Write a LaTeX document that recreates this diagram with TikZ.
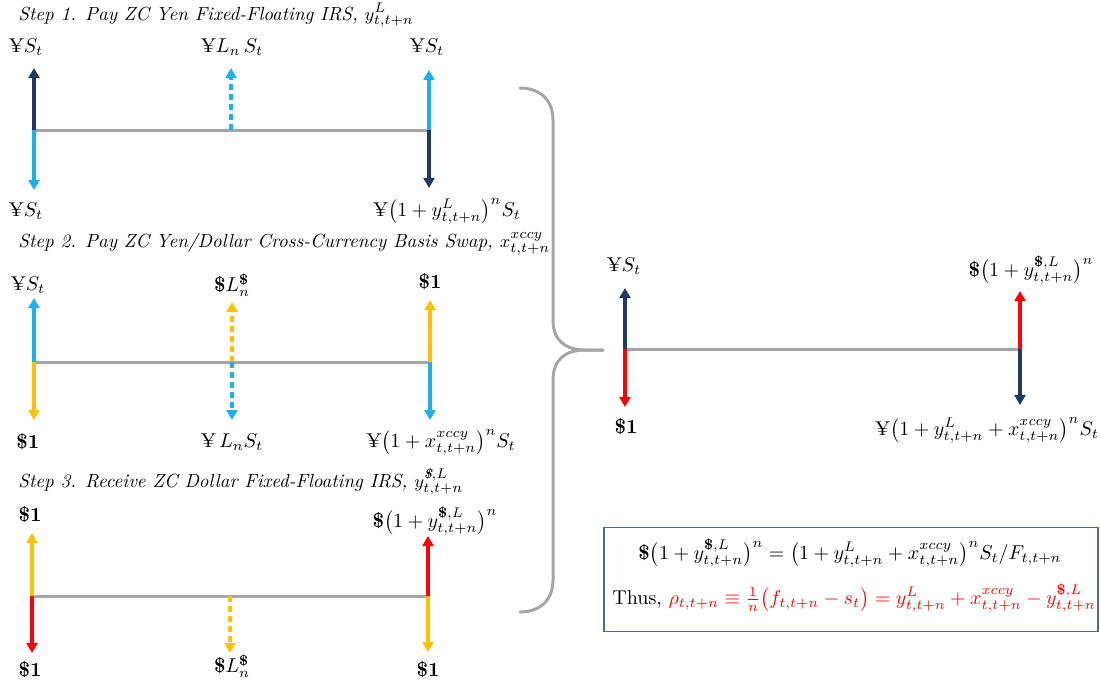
\documentclass[tikz,border=0pt]{standalone}
\usepackage{amsmath}
\usepackage{fontspec}
\usetikzlibrary{arrows.meta,calc}
\definecolor{navyc}{HTML}{1F3864}
\definecolor{skyc}{HTML}{1CB0EE}
\definecolor{goldc}{HTML}{FFC000}
\definecolor{redc}{HTML}{FF0000}
\definecolor{lgray}{HTML}{A6A6A6}
\definecolor{boxc}{HTML}{4A6AA5}
\newcommand{\bd}{\textbf{\$}}
\newcommand{\mbd}{\text{\textbf{\$}}}
\begin{document}
\begin{tikzpicture}[x=0.5pt,y=-0.5pt,
 flow/.style={line width=1.6pt,-{Triangle[width=5.5pt,length=5pt]}},
 dsh/.style={dash pattern=on 3pt off 2pt},
 axis/.style={draw=lgray,line width=1.5pt},
 lbl/.style={inner sep=0pt},
 ttl/.style={inner sep=0pt,anchor=west,font=\itshape\fontsize{9.5}{11}\selectfont},
 brace/.style={draw=lgray,line width=1.5pt,line cap=round}]
\useasboundingbox (0,0) rectangle (1100,682);

% ---------------- Step 1 ----------------
\node[ttl] (t1) at (18,15) {Step 1. Pay ZC Yen Fixed-Floating IRS, $y^{L}_{t,t+n}$};
\coordinate (a1) at (34,130);
\coordinate (m1) at (231,130);
\coordinate (b1) at (429,130);
\draw[axis] (a1) -- (b1);
\draw[flow,navyc] (a1) -- ++(0,-62);
\draw[flow,skyc] (a1) -- ++(0,60);
\draw[flow,skyc,dsh] (m1) -- ++(0,-62);
\draw[flow,skyc] (b1) -- ++(0,-60);
\draw[flow,navyc] (b1) -- ++(0,58);
\node[lbl] (a1u) at (26,47) {¥$S_t$};
\node[lbl] (m1u) at (232,47) {¥$L_n\,S_t$};
\node[lbl] (b1u) at (427,47) {¥$S_t$};
\node[lbl] (a1d) at (26,211) {¥$S_t$};
\node[lbl] (b1d) at (447,211) {¥$\bigl(1+y^{L}_{t,t+n}\bigr)^{n}S_t$};

% ---------------- Step 2 ----------------
\node[ttl] (t2) at (18,244) {Step 2. Pay ZC Yen/Dollar Cross-Currency Basis Swap, $x^{xccy}_{t,t+n}$};
\coordinate (a2) at (34,362);
\coordinate (m2) at (232,362);
\coordinate (b2) at (430,362);
\draw[axis] (a2) -- (b2);
\draw[flow,skyc] (a2) -- ++(0,-64);
\draw[flow,goldc] (a2) -- ++(0,58);
\draw[flow,goldc,dsh] (m2) -- ++(0,-60);
\draw[flow,skyc,dsh] (m2) -- ++(0,58);
\draw[flow,goldc] (b2) -- ++(0,-62);
\draw[flow,skyc] (b2) -- ++(0,58);
\node[lbl] (a2u) at (28,285) {¥$S_t$};
\node[lbl] (m2u) at (232,285) {\bd$L_n^{\mbd}$};
\node[lbl] (b2u) at (430,282) {\bd\textbf{1}};
\node[lbl] (a2d) at (28,442) {\bd\textbf{1}};
\node[lbl] (m2d) at (232,442) {¥\,$L_nS_t$};
\node[lbl] (b2d) at (441,442) {¥$\bigl(1+x^{xccy}_{t,t+n}\bigr)^{n}S_t$};

% ---------------- Step 3 ----------------
\node[ttl] (t3) at (18,482) {Step 3. Receive ZC Dollar Fixed-Floating IRS, $y^{\mbd,L}_{t,t+n}$};
\coordinate (a3) at (32,596);
\coordinate (m3) at (230,596);
\coordinate (b3) at (428,596);
\draw[axis] (a3) -- (b3);
\draw[flow,goldc] (a3) -- ++(0,-63);
\draw[flow,redc] (a3) -- ++(0,57);
\draw[flow,goldc,dsh] (m3) -- ++(0,57);
\draw[flow,redc] (b3) -- ++(0,-60);
\draw[flow,goldc] (b3) -- ++(0,56);
\node[lbl] (a3u) at (30,515) {\bd\textbf{1}};
\node[lbl] (b3u) at (435,521) {\bd$\bigl(1+y^{\mbd,L}_{t,t+n}\bigr)^{n}$};
\node[lbl] (a3d) at (30,670) {\bd\textbf{1}};
\node[lbl] (m3d) at (232,666) {\bd$L_n^{\mbd}$};
\node[lbl] (b3d) at (428,670) {\bd\textbf{1}};

% ---------------- Brace ----------------
\coordinate (bt) at (520,88);
\coordinate (bm) at (603,350);
\coordinate (bb) at (520,612);
\draw[brace] (bt) .. controls (540,88) and (553,100) .. (553,120) -- (553,320)
  .. controls (553,340) and (565,350) .. (585,350) -- (bm);
\draw[brace] (bm) -- (585,350) .. controls (565,350) and (553,360) .. (553,380)
  -- (553,580) .. controls (553,600) and (540,612) .. (bb);

% ---------------- Result ----------------
\coordinate (ar) at (625,349);
\coordinate (br) at (1020,349);
\draw[axis] (ar) -- (br);
\draw[flow,navyc] (ar) -- ++(0,-61);
\draw[flow,redc] (ar) -- ++(0,58);
\draw[flow,redc] (br) -- ++(0,-58);
\draw[flow,navyc] (br) -- ++(0,56);
\node[lbl] (aru) at (624,266) {¥$S_t$};
\node[lbl] (ard) at (626,427) {\bd\textbf{1}};
\node[lbl] (bru) at (1031,270) {\bd$\bigl(1+y^{\mbd,L}_{t,t+n}\bigr)^{n}$};
\node[lbl] (brd) at (987,430) {¥$\bigl(1+y^{L}_{t,t+n}+x^{xccy}_{t,t+n}\bigr)^{n}S_t$};

% ---------------- Box ----------------
\node[draw=boxc,line width=0.8pt,minimum width=247pt,minimum height=52pt,inner sep=0pt] (box) at (851,579.5) {};
\node[lbl] (eq1) at (850,553) {\bd$\bigl(1+y^{\mbd,L}_{t,t+n}\bigr)^{n}=\bigl(1+y^{L}_{t,t+n}+x^{xccy}_{t,t+n}\bigr)^{n}S_t/F_{t,t+n}$};
\node[lbl,anchor=west] (eq2) at (612,598) {Thus, \textcolor{redc}{$\rho_{t,t+n}\equiv\frac{1}{n}\bigl(f_{t,t+n}-s_t\bigr)=y^{L}_{t,t+n}+x^{xccy}_{t,t+n}-y^{\mbd,L}_{t,t+n}$}};
\end{tikzpicture}
\end{document}
